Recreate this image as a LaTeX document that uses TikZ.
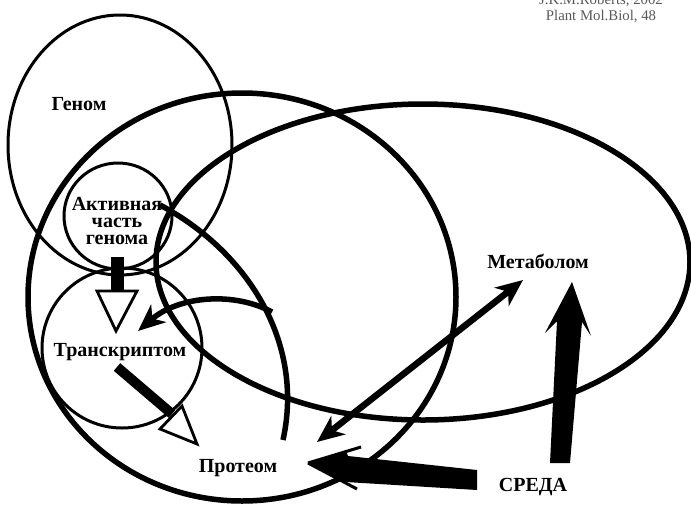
\documentclass[tikz,border=0pt]{standalone}
\usepackage{fontspec}
\setmainfont{Liberation Serif}
\usetikzlibrary{arrows.meta}
\tikzset{bighead/.tip={Stealth[length=27pt,width=23pt,inset=8pt]}}
\begin{document}
\begin{tikzpicture}[x=1pt,y=-1pt,
  ring/.style={line width=3pt},
  bigring/.style={line width=5.5pt},
  lbl/.style={font=\fontsize{20}{17}\selectfont\bfseries, inner sep=0pt},
  citetext/.style={font=\fontsize{14.8}{15.5}\selectfont, text=black!65, inner sep=0pt, align=center},
  openhead/.style={line width=2.8pt, fill=white, line join=miter},
  bar/.style={line width=#1, line cap=butt}]
\useasboundingbox (0,0) rectangle (691,507);

% rings
\draw[ring] (120,145) ellipse [x radius=112pt, y radius=130pt];
\draw[ring] (118,216) ellipse [x radius=54pt, y radius=53pt];
\draw[ring] (122,348) ellipse [x radius=80pt, y radius=80pt];
\draw[bigring] (242,297) ellipse [x radius=214pt, y radius=204pt];
\draw[bigring] (423,262) ellipse [x radius=267pt, y radius=158pt];
\coordinate (arcA) at (160,205);
\coordinate (arcB) at (283,440);
\draw[bigring] (arcA) .. controls (245,250) and (305,340) .. (arcB);

% labels
\node[lbl, anchor=north, align=center] (active) at (117,197) {Активная\\часть\\генома};
\node[lbl, anchor=base] (genome) at (79,110) {Геном};
\node[lbl, anchor=base] (transcr) at (120,356) {Транскриптом};
\node[lbl, anchor=base] (prot) at (238,472) {Протеом};
\node[lbl, anchor=base] (metab) at (538,268) {Метаболом};
\node[lbl, anchor=base] (sreda) at (533,491) {СРЕДА};
\node[citetext, anchor=north] (cite) at (601,-5.5) {J.K.M.Roberts, 2002\\Plant Mol.Biol, 48};

% active -> transcriptome
\coordinate (a1) at (117,257);
\coordinate (a2) at (117,290);
\coordinate (aL) at (97,291);
\coordinate (aR) at (137,291);
\coordinate (aT) at (116,331);
\draw[bar=13pt] (a1) -- (a2);
\draw[openhead] (aL) -- (aR) -- (aT) -- cycle;

% transcriptome -> proteome
\coordinate (b1) at (117,367);
\coordinate (b2) at (172,414);
\coordinate (bL) at (160,429);
\coordinate (bR) at (182,406);
\coordinate (bT) at (197,444);
\draw[bar=10pt] (b1) -- (b2);
\draw[openhead] (bL) -- (bR) -- (bT) -- cycle;

% feedback arrow to transcriptome
\coordinate (c1) at (272,312);
\coordinate (c2) at (138,331);
\draw[line width=5.5pt, -{bighead}] (c1) .. controls (235,292) and (180,295) .. (c2);

% proteome <-> metabolome
\coordinate (d1) at (317,442);
\coordinate (d2) at (523,280);
\draw[line width=6.5pt, {bighead}-{bighead}] (d1) -- (d2);

% environment -> proteome
\coordinate (eT) at (308,463);
\coordinate (eU) at (361,447);
\coordinate (eD) at (357,489);
\fill (eT) -- (346,451) -- (348,456) -- (477,470) -- (477,490) -- (346,482) -- cycle;
\draw[line width=3pt] (eT) -- (eU);
\draw[line width=3pt] (eT) -- (eD);

% environment -> metabolome
\coordinate (fT) at (572,282);
\fill (fT) -- (591,336) -- (582,322) -- (570,463) -- (550,463) -- (557,321) -- (545,333) -- cycle;
\end{tikzpicture}
\end{document}
